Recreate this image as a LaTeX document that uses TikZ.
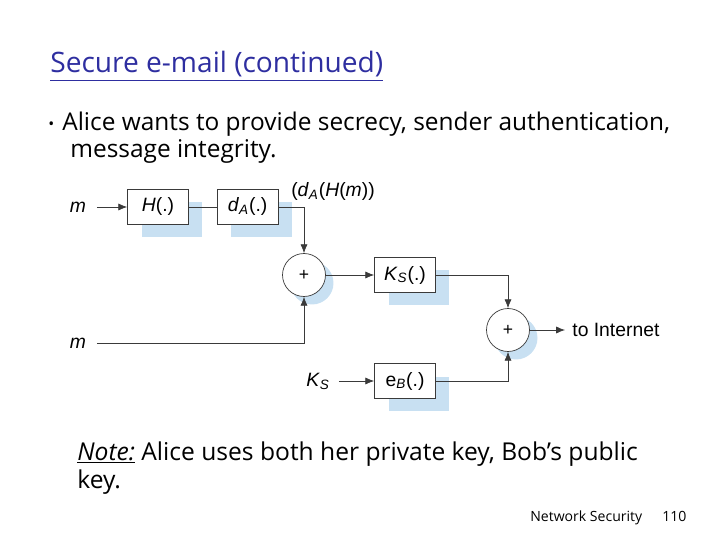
\documentclass[tikz,border=0pt]{standalone}
\usepackage{fontspec}
\setmainfont{Open Sans}
\newfontfamily\diagfont{Liberation Sans}
\usepackage{xcolor}
\usetikzlibrary{arrows.meta, positioning, shadows}
\definecolor{titleblue}{HTML}{2E2EA0}
\definecolor{shadeblue}{HTML}{C8E0F2}
\definecolor{linegray}{HTML}{3A3A3A}

\begin{document}
\begin{tikzpicture}[
    x=0.02cm, y=-0.02cm,
    node distance=0.56cm,
    block/.style={rectangle, draw=linegray, fill=white, font=\diagfont\fontsize{11}{13}\selectfont, minimum width=1.22cm, minimum height=0.7cm, inner sep=1pt, drop shadow={shadow xshift=0.28cm, shadow yshift=-0.26cm, fill=shadeblue, opacity=1}},
    adder/.style={circle, draw=linegray, fill=white, minimum size=0.86cm, inner sep=0pt, font=\diagfont\fontsize{10}{12}\selectfont, drop shadow={shadow xshift=0.16cm, shadow yshift=-0.16cm, fill=shadeblue, opacity=1}},
    lbl/.style={font=\diagfont\fontsize{11}{13}\selectfont, inner sep=1pt},
    body/.style={anchor=base west, inner sep=0pt, font=\fontsize{13.9}{16}\selectfont},
    arrow/.style={-{Latex[length=5pt, width=4pt]}, draw=linegray, thin},
    wire/.style={draw=linegray, thin}
]
\useasboundingbox (0,0) rectangle (720,540);

\node (title) [anchor=base west, inner sep=0pt, text=titleblue, font=\fontsize{16}{19}\selectfont] at (50,73) {\underline{Secure e-mail (continued)}};
\node (bullet) [body, font=\fontsize{9}{11}\selectfont] at (48,130) {\textbullet};
\node (point) [body] at (62,131) {Alice wants to provide secrecy, sender authentication,};
\node (point2) [body] at (70,158) {message integrity.};

\node (hash) [block] at (158,207) {\textit{H}(.)};
\node (sign) [block, right=of hash] {\textit{d}\textsubscript{\textit{A}}(.)};
\node (add1) [adder] at (304,275) {+};
\node (sym) [block] at (405,275) {\textit{K}\textsubscript{\textit{S}}(.)};
\node (add2) [adder] at (508,330) {+};
\node (pub) [block] at (405,381) {e\textsubscript{\textit{B}}(.)};

\node (m1) [lbl, inner sep=6pt] at (78,207) {\textit{m}};
\node (m2) [lbl, inner sep=6pt] at (78,343) {\textit{m}};
\node (ks) [lbl, inner sep=5pt] at (318,381) {\textit{K}\textsubscript{\textit{S}}};
\node (sig) [lbl] at (333,192) {(\textit{d}\textsubscript{\textit{A}}(\textit{H}(\textit{m}))};
\node (net) [lbl, anchor=west, inner sep=4pt] at (565,330) {to Internet};

\draw [arrow] (m1) -- (hash);
\draw [wire] (hash) -- (sign);
\draw [arrow] (sign) -| (add1);
\draw [arrow] (m2) -| (add1);
\draw [arrow] (add1) -- (sym);
\draw [arrow] (sym) -| (add2);
\draw [arrow] (ks) -- (pub);
\draw [arrow] (pub) -| (add2);
\draw [arrow] (add2) -- (net);

\node (note) [body, font=\fontsize{14}{17}\selectfont] at (77,460) {\underline{\textit{Note:}} Alice uses both her private key, Bob’s public};
\node (note2) [body, font=\fontsize{14}{17}\selectfont] at (77,488) {key.};
\node (footer) [anchor=base west, inner sep=0pt, font=\fontsize{8}{10}\selectfont] at (530,521) {Network Security};
\node (page) [anchor=base west, inner sep=0pt, font=\fontsize{8}{10}\selectfont] at (662,521) {110};

\end{tikzpicture}
\end{document}
